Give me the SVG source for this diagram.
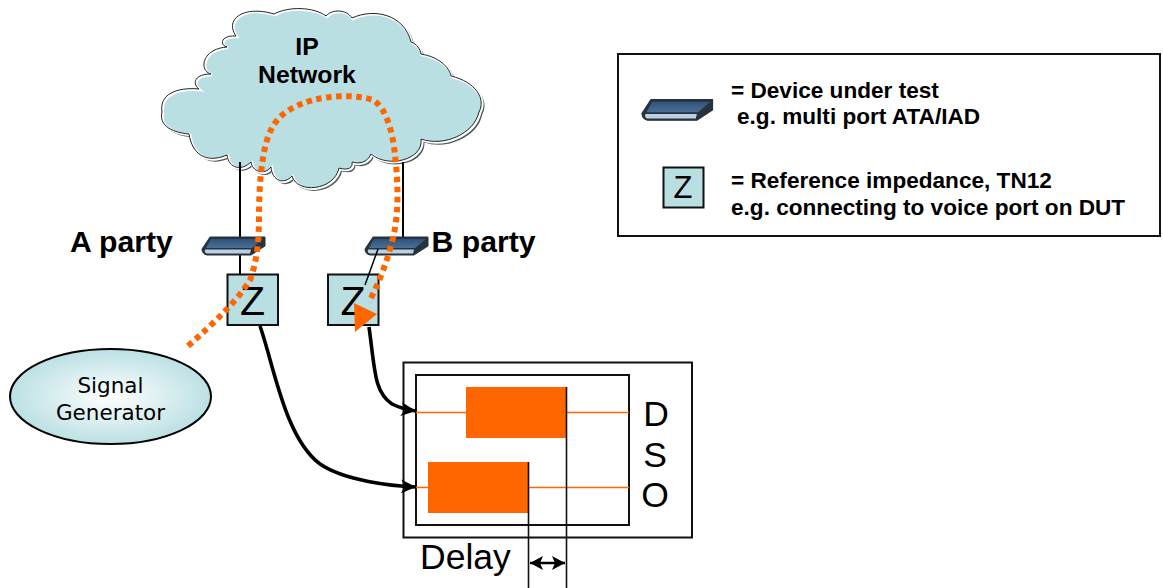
<svg xmlns="http://www.w3.org/2000/svg" width="1163" height="588" viewBox="0 0 1163 588">
<style>
text{font-family:"Liberation Sans",Arial,sans-serif;fill:#000}
.b{font-weight:bold}
.leg{font-weight:bold;font-size:22.6px}
.party{font-weight:bold;font-size:30.2px}
.dso{font-size:35.5px;text-anchor:middle}
.zt{font-size:41px;text-anchor:middle}
.zbox{fill:#b9dfe3;stroke:#111;stroke-width:2}
.box{fill:#fff;stroke:#111;stroke-width:2}
.thin{fill:none;stroke:#000;stroke-width:2}
.thick{fill:none;stroke:#000;stroke-width:3.6;marker-end:url(#ah)}
.tr{fill:none;stroke:#ff6600;stroke-width:1.6}
.bar{fill:#ff6600}
.sg{font-size:21.5px;text-anchor:middle}
</style>
<defs>
<marker id="ah" markerUnits="userSpaceOnUse" markerWidth="16" markerHeight="14" refX="15" refY="7" orient="auto"><path d="M0 0L15 7L0 14L4 7Z" fill="#000"/></marker>
<marker id="dh" markerUnits="userSpaceOnUse" markerWidth="14" markerHeight="14" refX="13" refY="7" orient="auto-start-reverse"><path d="M0 0L13 7L0 14L3 7Z" fill="#000"/></marker>
<linearGradient id="dev" x1="0" y1="0" x2="0" y2="1"><stop offset="0" stop-color="#2f5378"/><stop offset="1" stop-color="#4a6f96"/></linearGradient>
<radialGradient id="eg" cx="0.5" cy="0.5" r="0.52"><stop offset="0" stop-color="#ffffff"/><stop offset="1" stop-color="#b9dfe3"/></radialGradient>
<g id="device">
<path d="M8 0L63 0L63 9L49 18L5 18Q0 17 0 12Z" fill="#26333f" stroke="#26333f" stroke-width="1"/>
<path d="M9 2L61 2L50 11L4 11Z" fill="url(#dev)"/>
<path d="M3 12.500L49 12.500L48 16.500L5 16.500Q2 16 3 12.500Z" fill="#bcd0e4"/>
</g>
<path id="cl" d="M163 113C160 95 178 88 200 90C193 85 195 75 212 75C200 72 202 50 228 48C220 46 222 36 237 37C225 20 245 6 275 15C290 7 315 8 327 17C333 10 347 10 353 19C375 9 405 15 412 43C418 45 421 50 422 55C440 58 450 68 452 77C477 83 487 100 480 113C475 135 445 148 422 140C425 160 390 170 372 155C368 164 360 165 353 163C354 168 350 172 340 169C335 192 298 195 293 177C285 186 273 182 272 168C265 177 253 172 252 163C243 172 230 170 228 156C207 165 193 155 190 135C170 133 160 125 163 113Z"/>
</defs>

<g id="cloud">
<use href="#cl" x="1.5" y="1.5" fill="#4a5a5c" stroke="#4a5a5c" stroke-width="1.5"/>
<use href="#cl" fill="#b9dfe3" stroke="#fff" stroke-width="2.6"/>
<use href="#cl" x="-1" y="-1" fill="none" stroke="#222" stroke-width="1"/>
<text class="b" font-size="24.8" x="307" y="55" text-anchor="middle">IP</text>
<text class="b" font-size="24.8" x="307" y="83" text-anchor="middle">Network</text>
</g>

<g id="legend">
<rect class="box" x="618" y="54" width="542" height="182"/>
<use href="#device" transform="translate(642 99.5) scale(1.12 1.15)"/>
<rect class="zbox" x="663.500" y="167.500" width="40" height="40"/>
<text x="683" y="198" font-size="31" text-anchor="middle">Z</text>
<text class="leg" x="731" y="98">= Device under test</text>
<text class="leg" x="737" y="124">e.g. multi port ATA/IAD</text>
<text class="leg" x="731" y="188">= Reference impedance, TN12</text>
<text class="leg" x="731" y="215">e.g. connecting to voice port on DUT</text>
</g>

<g id="dso">
<rect class="box" x="403.500" y="362.500" width="288.500" height="175"/>
<rect class="box" x="416" y="375" width="213" height="150"/>
<path class="tr" d="M416 412.500H466M566 412.500H629M416 487.500H428M528 487.500H629"/>
<rect class="bar" x="466" y="387" width="100" height="51"/>
<rect class="bar" x="428" y="462" width="100" height="51"/>
<text class="dso" x="656" y="426">D</text>
<text class="dso" x="655" y="467">S</text>
<text class="dso" x="655" y="507">O</text>
<text x="420" y="569" font-size="35.5">Delay</text>
</g>

<g id="party-a">
<path class="thin" d="M240 162V287"/>
<use href="#device" x="202" y="237"/>
<rect class="zbox" x="227.500" y="274.500" width="50.500" height="50.500"/>
<text class="zt" x="252.500" y="315">Z</text>
<text class="party" x="70" y="252">A party</text>
</g>

<g id="party-b">
<path class="thin" d="M403 162V238"/>
<use href="#device" x="365" y="237"/>
<rect class="zbox" x="328" y="274.500" width="50.500" height="50.500"/>
<text class="zt" x="353" y="315">Z</text>
<path d="M378 249L365 285" fill="none" stroke="#000" stroke-width="1.5"/>
<text class="party" x="431.500" y="252">B party</text>
</g>

<g id="signal-generator">
<ellipse cx="110.500" cy="396.500" rx="100.500" ry="47.500" fill="url(#eg)" stroke="#000" stroke-width="2"/>
<text class="sg" x="110.500" y="393" style="font-family:'DejaVu Sans',sans-serif">Signal</text>
<text class="sg" x="110.500" y="420" style="font-family:'DejaVu Sans',sans-serif">Generator</text>
</g>

<g id="connectors">
<path class="thick" d="M260 326C274 366 285 438 320 464C345 481 392 486 416 487"/>
<path class="thick" d="M369 327C375 370 374 392 392 404C402 409 408 410 416 411"/>
<path d="M566.500 387V588M528.500 462V588" fill="none" stroke="#111" stroke-width="1.6"/>
<path d="M530 563H565" fill="none" stroke="#000" stroke-width="2.500" marker-start="url(#dh)" marker-end="url(#dh)"/>
<path d="M188 346C215 322 238 300 250 280C257 262 259 240 259 215C259 190 261 160 267 140C273 120 285 108 313 100C330 96 355 94 373 100C387 108 393 135 395 155C398 180 399 210 394 233C389 258 378 285 369 302" fill="none" stroke="#ff6600" stroke-width="6" stroke-dasharray="5.500 4.500"/>
<path d="M354 303L377 314L355 332Z" fill="#ff6600"/>
</g>
</svg>
